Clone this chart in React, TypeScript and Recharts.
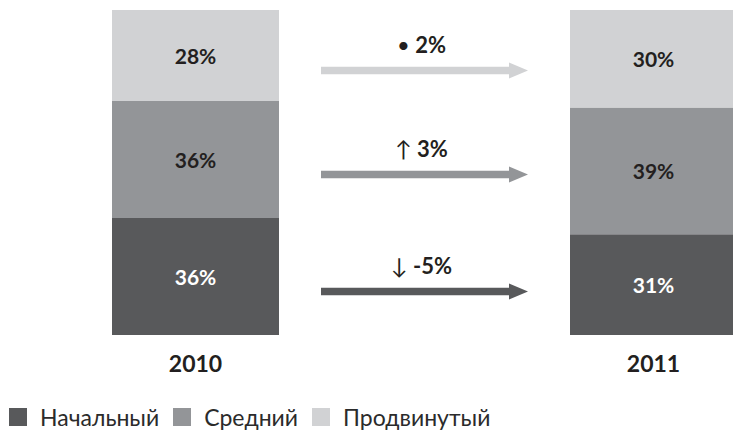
import { Bar, BarChart, Cell, LabelList, Legend, XAxis, YAxis } from 'recharts'

const years = ['2010', '', '2011']
const basicShare = [36, 31]
const middleShare = [36, 39]
const advancedShare = [28, 30]
const seriesNames = ['Начальный', 'Средний', 'Продвинутый']
const changeSymbols = ['↓', '↑', '•']
const changeValues = ['-5%', '3%', '2%']

const colors = ['#58595b', '#939598', '#d1d2d4']
const labelColors = ['#ffffff', '#231f20', '#231f20']
const font = "Lato, 'DejaVu Sans', sans-serif"

// middle column is only a placeholder for the change arrows, it reuses the 2010 stack
const data = years.map((year, i) => {
    const src = i === 2 ? 1 : 0
    return {
        year,
        basic: basicShare[src],
        middle: middleShare[src],
        advanced: advancedShare[src],
    }
})

const makeLabel = (series: number) => (props: any) => {
    const { x, y, width, height, value, index } = props
    const cx = x + width / 2
    const cy = y + height / 2
    if (index === 1) {
        const ay = cy + 15
        const x0 = x - 20
        const x1 = x + width + 20
        return (
            <g>
                <rect x={x0} y={ay - 3.75} width={x1 - 19 - x0} height={7.5} fill={colors[series]} />
                <polygon points={`${x1 - 19},${ay - 8} ${x1},${ay} ${x1 - 19},${ay + 8}`} fill={colors[series]} />
                <text x={cx - 3} y={cy - 3} textAnchor="middle" fill="#231f20" fontFamily={font} fontSize={22}>
                    <tspan fontWeight={400}>{changeSymbols[series]}</tspan>
                    <tspan fontWeight={700}> {changeValues[series]}</tspan>
                </text>
            </g>
        )
    }
    return (
        <text x={cx} y={cy + 8} textAnchor="middle" fill={labelColors[series]} fontFamily={font} fontWeight={700} fontSize={21}>
            {value}%
        </text>
    )
}

const renderLegend = (props: any) => {
    const items = [...(props.payload || [])].sort(
        (a: any, b: any) => seriesNames.indexOf(a.value) - seriesNames.indexOf(b.value)
    )
    return (
        <div style={{ display: 'flex', alignItems: 'center', fontFamily: font, fontSize: 23, color: '#2b2b2b', whiteSpace: 'nowrap' }}>
            {items.map((entry: any) => (
                <div key={entry.value} style={{ display: 'flex', alignItems: 'center', marginRight: 14 }}>
                    <span style={{ width: 18, height: 18, background: entry.color, display: 'inline-block', marginRight: 13 }} />
                    <span>{entry.value}</span>
                </div>
            ))}
        </div>
    )
}

export default function App() {
    const keys = ['basic', 'middle', 'advanced']
    return (
        <div style={{ position: 'absolute', left: 0, top: 0, width: 733, height: 430, overflow: 'hidden', background: '#fff' }}>
            <BarChart
                width={780}
                height={430}
                data={data}
                barSize={167}
                margin={{ top: 10, right: 12, left: 81, bottom: 65 }}
            >
                <XAxis
                    dataKey="year"
                    axisLine={false}
                    tickLine={false}
                    tickMargin={15}
                    height={30}
                    tick={{ fill: '#231f20', fontSize: 23, fontWeight: 700, fontFamily: font }}
                />
                <YAxis hide domain={[0, 100]} />
                <Legend
                    layout="horizontal"
                    verticalAlign="middle"
                    align="center"
                    content={renderLegend}
                    wrapperStyle={{ position: 'absolute', left: 9, top: 403, width: 'auto', height: 'auto' }}
                />
                {keys.map((k, s) => (
                    <Bar key={k} dataKey={k} name={seriesNames[s]} stackId="a" fill={colors[s]} isAnimationActive={false}>
                        {data.map((_, i) => (
                            <Cell key={i} fill={i === 1 ? 'transparent' : colors[s]} />
                        ))}
                        <LabelList dataKey={k} content={makeLabel(s)} />
                    </Bar>
                ))}
            </BarChart>
        </div>
    )
}
